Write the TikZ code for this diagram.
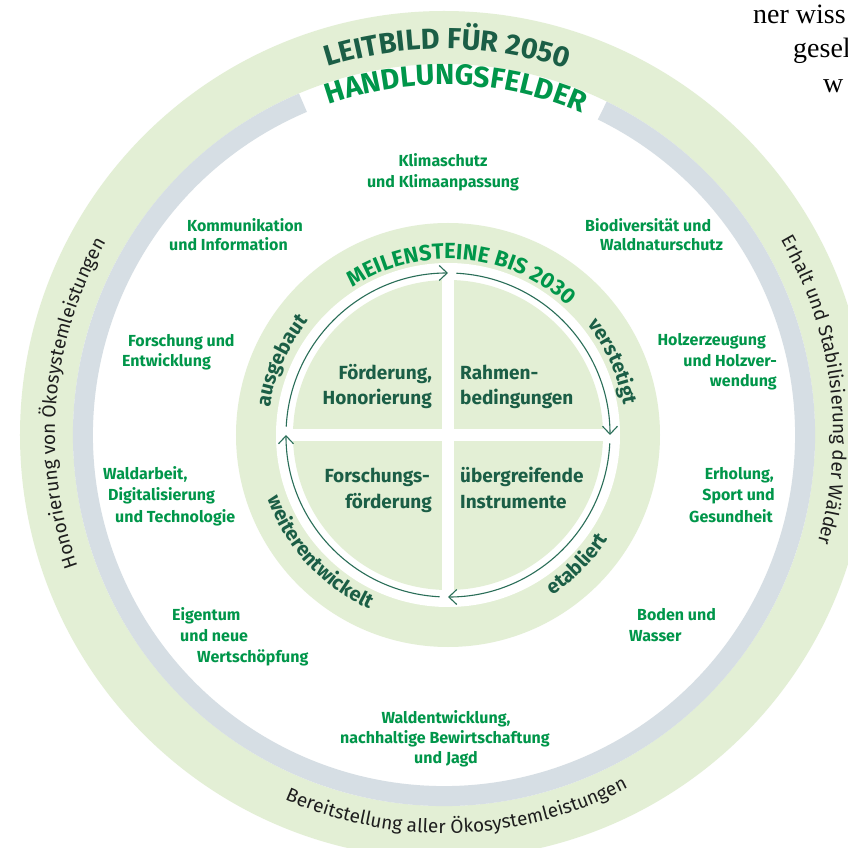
\documentclass[tikz,border=0pt]{standalone}
\usepackage{fontspec}
\setmainfont{Fira Sans}
\newfontfamily\bodyserif{Liberation Serif}
\usetikzlibrary{decorations.text,arrows.meta}

\definecolor{ringgreen}{HTML}{E3EFD5}
\definecolor{ringgray}{HTML}{D6DEE4}
\definecolor{leafgreen}{HTML}{00964A}
\definecolor{pinegreen}{HTML}{1B5E46}
\definecolor{arrowgreen}{HTML}{2A6E58}
\definecolor{inkgray}{HTML}{1E1E1E}

% fonts used inside text-along-path decorations
\newcommand\titlefont{\bfseries\fontsize{29}{34}\selectfont}
\newcommand\stagefont{\bfseries\fontsize{20}{24}\selectfont}
\newcommand\milefont{\bfseries\fontsize{22}{26}\selectfont}
\newcommand\ringfont{\fontsize{19}{22}\selectfont}

\begin{document}
\begin{tikzpicture}[x=1pt,y=1pt,
  fieldlbl/.style={font=\bfseries\fontsize{16}{19}\selectfont, text=leafgreen, inner sep=0pt},
  quadlbl/.style={font=\bfseries\fontsize{19}{23}\selectfont, text=pinegreen, inner sep=0pt},
  loopline/.style={draw=arrowgreen, line width=1.1pt,
    -{Straight Barb[length=8pt,width=15pt,line width=1.1pt]}},
  bodyline/.style={font=\bodyserif\fontsize{28}{32}\selectfont, text=black, inner sep=0pt, anchor=base west},
  arctext/.style={decorate, decoration={text along path, text align=center, text={#1}}},
]
\useasboundingbox (-448,-413) rectangle (399,435);
\fill[white] (-448,-413) rectangle (399,435);

% outer ring: green band and grey band open at the top
\begin{scope}[shift={(-4,0)}]
  \fill[ringgreen, even odd rule] (0,0) circle[radius=424] circle[radius=371];
  \draw[ringgray, line width=20pt] (113:361) arc[start angle=113, end angle=424, radius=361];

  % titles on the outer ring
  \path[arctext={|\titlefont\color{pinegreen}|LEITBILD FÜR 2050}]
    (149.5:386) arc[start angle=149.5, end angle=29.5, radius=386];
  \path[arctext={|\titlefont\color{leafgreen}|HANDLUNGSFELDER}]
    (148:350) arc[start angle=148, end angle=28, radius=350];

  % texts on the outer ring
  \path[arctext={|\ringfont\color{inkgray}|Honorierung von Ökosystemleistungen}]
    (245:389) arc[start angle=245, end angle=105, radius=389];
  \path[arctext={|\ringfont\color{inkgray}|Erhalt und Stabilisierung der Wälder}]
    (77:389) arc[start angle=77, end angle=-63, radius=389];
  \path[arctext={|\ringfont\color{inkgray}|Bereitstellung aller Ökosystemleistungen}]
    (202:398) arc[start angle=202, end angle=342, radius=398];
\end{scope}

% inner disc with white ring and cross
\fill[ringgreen] (0,0) circle[radius=212];
\fill[white] (0,0) circle[radius=172];
\fill[ringgreen] (0,0) circle[radius=155];
\fill[white] (-6,-160) rectangle (6,160);
\fill[white] (-160,-6) rectangle (160,6);

% clockwise cycle arrows
\draw[loopline] (177:162) arc[start angle=177, end angle=90, radius=162];
\draw[loopline] (87:162) arc[start angle=87, end angle=0, radius=162];
\draw[loopline] (-3:162) arc[start angle=-3, end angle=-90, radius=162];
\draw[loopline] (-93:162) arc[start angle=-93, end angle=-180, radius=162];

% milestone ring
\path[arctext={|\milefont\color{leafgreen}|MEILENSTEINE BIS 2030}]
  (150:176) arc[start angle=150, end angle=20, radius=176];
\path[arctext={|\stagefont\color{pinegreen}|ausgebaut}]
  (196:180) arc[start angle=196, end angle=116, radius=180];
\path[arctext={|\stagefont\color{pinegreen}|verstetigt}]
  (64:178) arc[start angle=64, end angle=-16, radius=178];
\path[arctext={|\stagefont\color{pinegreen}|etabliert}]
  (-85:191) arc[start angle=-85, end angle=-5, radius=191];
\path[arctext={|\stagefont\color{pinegreen}|weiterentwickelt}]
  (170:191) arc[start angle=170, end angle=275, radius=191];

% quadrant labels
\node[quadlbl, anchor=base east] (q1a) at (-16,55) {Förderung,};
\node[quadlbl, anchor=base east] (q1b) at (-16,30) {Honorierung};
\node[quadlbl, anchor=base west] (q2a) at (12,55) {Rahmen-};
\node[quadlbl, anchor=base west] (q2b) at (12,30) {bedingungen};
\node[quadlbl, anchor=base east] (q3a) at (-18,-48) {Forschungs-};
\node[quadlbl, anchor=base east] (q3b) at (-16,-73) {förderung};
\node[quadlbl, anchor=base west] (q4a) at (12,-48) {übergreifende};
\node[quadlbl, anchor=base west] (q4b) at (12,-73) {Instrumente};

% fields of action
\node[fieldlbl, anchor=base] (f1a) at (-5,268) {Klimaschutz};
\node[fieldlbl, anchor=base] (f1b) at (-5,247) {und Klimaanpassung};
\node[fieldlbl, anchor=base west] (f2a) at (137,203) {Biodiversität und};
\node[fieldlbl, anchor=base west] (f2b) at (152,184) {Waldnaturschutz};
\node[fieldlbl, anchor=base west] (f3a) at (-261,203) {Kommunikation};
\node[fieldlbl, anchor=base west] (f3b) at (-279,184) {und Information};
\node[fieldlbl, anchor=base west] (f4a) at (-320,88) {Forschung und};
\node[fieldlbl, anchor=base west] (f4b) at (-326,68) {Entwicklung};
\node[fieldlbl, anchor=base east] (f5a) at (318,89) {Holzerzeugung};
\node[fieldlbl, anchor=base east] (f5b) at (329,68) {und Holzver-};
\node[fieldlbl, anchor=base east] (f5c) at (329,48) {wendung};
\node[fieldlbl, anchor=base west] (f6a) at (-345,-45) {Waldarbeit,};
\node[fieldlbl, anchor=base west] (f6b) at (-340,-66) {Digitalisierung};
\node[fieldlbl, anchor=base west] (f6c) at (-333,-87) {und Technologie};
\node[fieldlbl, anchor=base east] (f7a) at (326,-45) {Erholung,};
\node[fieldlbl, anchor=base east] (f7b) at (327,-66) {Sport und};
\node[fieldlbl, anchor=base east] (f7c) at (325,-87) {Gesundheit};
\node[fieldlbl, anchor=base west] (f8a) at (-276,-185) {Eigentum};
\node[fieldlbl, anchor=base west] (f8b) at (-268,-206) {und neue};
\node[fieldlbl, anchor=base west] (f8c) at (-251,-227) {Wertschöpfung};
\node[fieldlbl, anchor=base west] (f9a) at (189,-185) {Boden und};
\node[fieldlbl, anchor=base west] (f9b) at (181,-206) {Wasser};
\node[fieldlbl, anchor=base] (f10a) at (-2,-288) {Waldentwicklung,};
\node[fieldlbl, anchor=base] (f10b) at (-3,-308) {nachhaltige Bewirtschaftung};
\node[fieldlbl, anchor=base] (f10c) at (-2,-328) {und Jagd};

% running text of the page beside the figure
\node[bodyline] (p1) at (305,411) {ner wiss};
\node[bodyline] (p2) at (345,377) {gesel};
\node[bodyline] (p3) at (375,342) {w};
\end{tikzpicture}
\end{document}
